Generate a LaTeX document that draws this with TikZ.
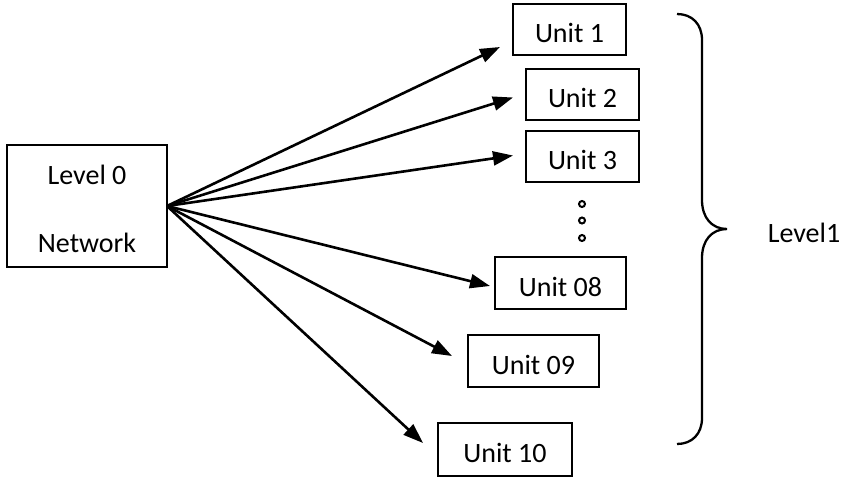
\documentclass[tikz,border=0pt]{standalone}
\usepackage{fontspec}
\setmainfont{Carlito}
\usetikzlibrary{arrows.meta}
\begin{document}
\begin{tikzpicture}[x=1pt,y=-1pt,
  every node/.style={font=\fontsize{28}{34}\selectfont},
  box/.style={draw=black,line width=1.6pt,minimum height=51pt,text height=26pt,text depth=0pt,inner sep=0pt},
  conn/.style={line width=2.6pt,-{Triangle[length=20pt,width=14pt]}},
  dotc/.style={draw=black,line width=2pt,fill=white},
  txt/.style={anchor=base,inner sep=0pt}]
\useasboundingbox (0,0) rectangle (843,479);
% Level 0 box
\node[draw=black,line width=1.6pt,minimum width=160pt,minimum height=122pt,inner sep=0pt] (net) at (87,206) {};
\node[txt] (l0) at (87,184) {Level 0};
\node[txt] (nw) at (87,252) {Network};
\coordinate (o) at (167,206);
% Units
\node[box,minimum width=113pt] (u1) at (569.5,29.5) {Unit 1};
\node[box,minimum width=113pt] (u2) at (582.5,94.5) {Unit 2};
\node[box,minimum width=113pt] (u3) at (582.5,156.5) {Unit 3};
\node[box,minimum width=131pt,minimum height=52pt] (u8) at (560.5,283) {Unit 08};
\node[box,minimum width=131pt,minimum height=52pt] (u9) at (533.5,361) {Unit 09};
\node[box,minimum width=134pt,minimum height=53pt] (u10) at (505,449.5) {Unit 10};
% arrow tips
\coordinate (t1) at (500,47);
\coordinate (t2) at (513,97.5);
\coordinate (t3) at (513,155.5);
\coordinate (t8) at (490,286);
\coordinate (t9) at (452,356);
\coordinate (t10) at (423,443);
\foreach \t in {t1,t2,t3,t8,t9,t10} \draw[conn] (o) -- (\t);
% dots
\node[dotc,circle,minimum size=6pt,inner sep=0pt] (d1) at (582,204) {};
\node[dotc,circle,minimum size=6pt,inner sep=0pt] (d2) at (582,220.5) {};
\node[dotc,circle,minimum size=6pt,inner sep=0pt] (d3) at (582,238) {};
% brace
\draw[line width=2.3pt] (677,14) .. controls (692,14) and (702,24) .. (702,40) -- (702,200)
  .. controls (702,218) and (712,229) .. (727,229)
  .. controls (712,229) and (702,240) .. (702,258) -- (702,418)
  .. controls (702,434) and (692,444) .. (677,444);
\node[txt] (lv1) at (804,242) {Level1};
\end{tikzpicture}
\end{document}
